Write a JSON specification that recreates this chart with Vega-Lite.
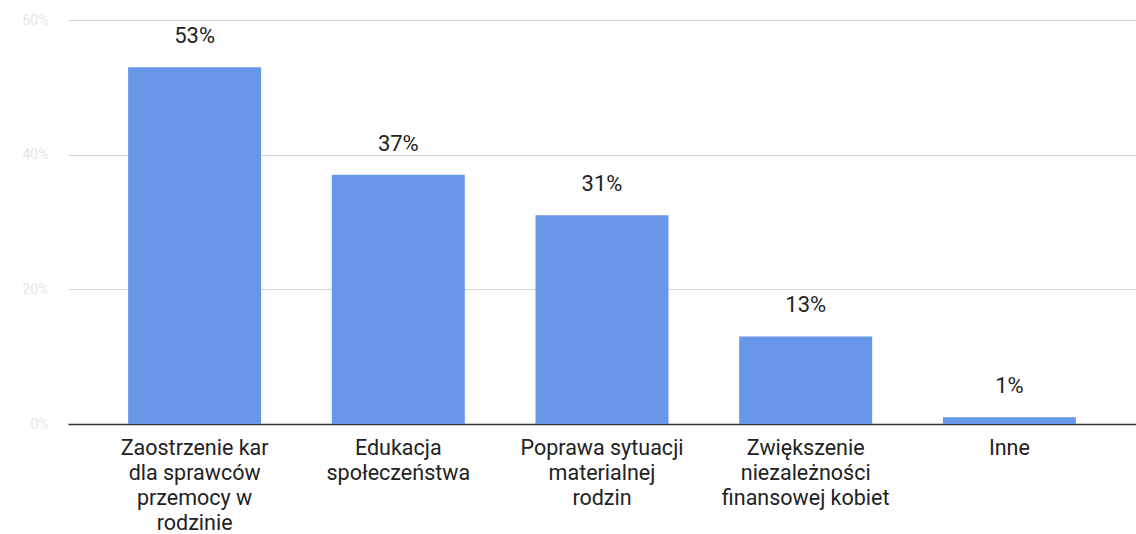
{
  "$schema": "https://vega.github.io/schema/vega-lite/v6.json",
  "autosize": {"type": "none"},
  "padding": {"left": 68, "top": 20, "right": 0, "bottom": 110},
  "width": 1068,
  "height": 404,
  "background": "white",
  "config": {"view": {"stroke": null}},
  "data": {
    "values": [
      {"kategoria": "Zaostrzenie kar\ndla sprawców\nprzemocy w\nrodzinie", "udzial": 0.53},
      {"kategoria": "Edukacja\nspołeczeństwa", "udzial": 0.37},
      {"kategoria": "Poprawa sytuacji\nmaterialnej\nrodzin", "udzial": 0.31},
      {"kategoria": "Zwiększenie\nniezależności\nfinansowej kobiet", "udzial": 0.13},
      {"kategoria": "Inne", "udzial": 0.01}
    ]
  },
  "encoding": {
    "x": {
      "field": "kategoria",
      "type": "nominal",
      "sort": null,
      "scale": {"paddingInner": 0.347, "paddingOuter": 0.295},
      "axis": {
        "title": null,
        "labelAngle": 0,
        "labelExpr": "split(datum.label, '\\n')",
        "labelFont": "Roboto",
        "labelFontSize": 21.5,
        "labelColor": "#222222",
        "labelLineHeight": 25,
        "labelPadding": 13,
        "labelLimit": 300,
        "ticks": false,
        "domainColor": "#333333",
        "domainWidth": 1.5
      }
    },
    "y": {
      "field": "udzial",
      "type": "quantitative",
      "scale": {"domain": [0, 0.6]},
      "axis": {
        "title": null,
        "values": [0, 0.2, 0.4, 0.6],
        "format": ".0%",
        "labelFont": "Roboto",
        "labelFontSize": 14,
        "labelColor": "#e6e6e6",
        "labelPadding": 20,
        "ticks": false,
        "domain": false,
        "gridColor": "#d4d4d4",
        "gridWidth": 1
      }
    }
  },
  "layer": [
    {
      "mark": {"type": "bar", "color": "#6896e9"}
    },
    {
      "mark": {
        "type": "text",
        "baseline": "alphabetic",
        "dy": -24,
        "font": "Roboto",
        "fontSize": 22,
        "color": "#222222"
      },
      "encoding": {
        "text": {"field": "udzial", "type": "quantitative", "format": ".0%"}
      }
    }
  ]
}
